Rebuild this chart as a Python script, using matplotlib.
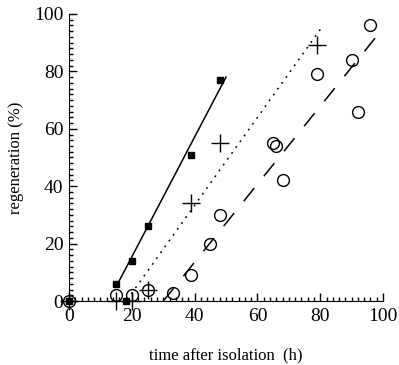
"""Regeneration time course after isolation."""

import matplotlib

matplotlib.use("Agg")
import matplotlib.pyplot as plt
from matplotlib.ticker import MultipleLocator

# filled squares
sq_x = [0, 15, 18, 20, 25, 39, 48]
sq_y = [0, 6, 0, 14, 26, 51, 77]

# crosses
plus_x = [0, 15, 20, 25, 39, 48, 79]
plus_y = [0, 0, 0, 4, 34, 55, 89]

# open circles
circ_x = [0, 15, 20, 25, 33, 39, 45, 48, 65, 66, 68, 79, 90, 92, 96]
circ_y = [0, 2, 2, 4, 3, 9, 20, 30, 55, 54, 42, 79, 84, 66, 96]

# fitted lines (end points)
fit_sq_x = [15, 50]
fit_sq_y = [5, 78]
fit_plus_x = [18.5, 80.3]
fit_plus_y = [0.5, 95]
fit_circ_x = [30, 100]
fit_circ_y = [0, 95]

plt.rcParams["font.family"] = ["Liberation Serif", "DejaVu Serif"]

fig = plt.figure(figsize=(3.99, 3.65), dpi=100)
ax = fig.add_axes([0.173, 0.175, 0.787, 0.787])

ax.plot(fit_sq_x, fit_sq_y, color="black", lw=1.1)
ax.plot(fit_plus_x, fit_plus_y, color="black", lw=1.1, linestyle=(0, (1.2, 3.5)))
ax.plot(fit_circ_x, fit_circ_y, color="black", lw=1.1, linestyle=(0, (11, 10)))

ax.plot(circ_x, circ_y, "o", ms=8.5, mfc="none", mec="black", mew=1.0, clip_on=False, zorder=3)
ax.plot(plus_x, plus_y, "+", ms=13, mec="black", mew=1.0, clip_on=False, zorder=3)
ax.plot(sq_x, sq_y, "s", ms=5, color="black", clip_on=False, zorder=4)

ax.set_xlim(0, 100)
ax.set_ylim(0, 100)
ax.xaxis.set_major_locator(MultipleLocator(20))
ax.xaxis.set_minor_locator(MultipleLocator(2))
ax.yaxis.set_major_locator(MultipleLocator(20))
ax.yaxis.set_minor_locator(MultipleLocator(2))
ax.tick_params(which="both", direction="in", labelsize=14, width=1.0)
ax.tick_params(which="major", length=6)
ax.tick_params(axis="x", which="major", pad=5)
ax.tick_params(axis="y", which="major", pad=4)
ax.tick_params(which="minor", length=3)
ax.spines["top"].set_visible(False)
ax.spines["right"].set_visible(False)

ax.set_xlabel("time after isolation  (h)", fontsize=12, labelpad=16)
ax.set_ylabel("regeneration (%)", fontsize=12, labelpad=7)

fig.savefig("out.png", dpi=100)
